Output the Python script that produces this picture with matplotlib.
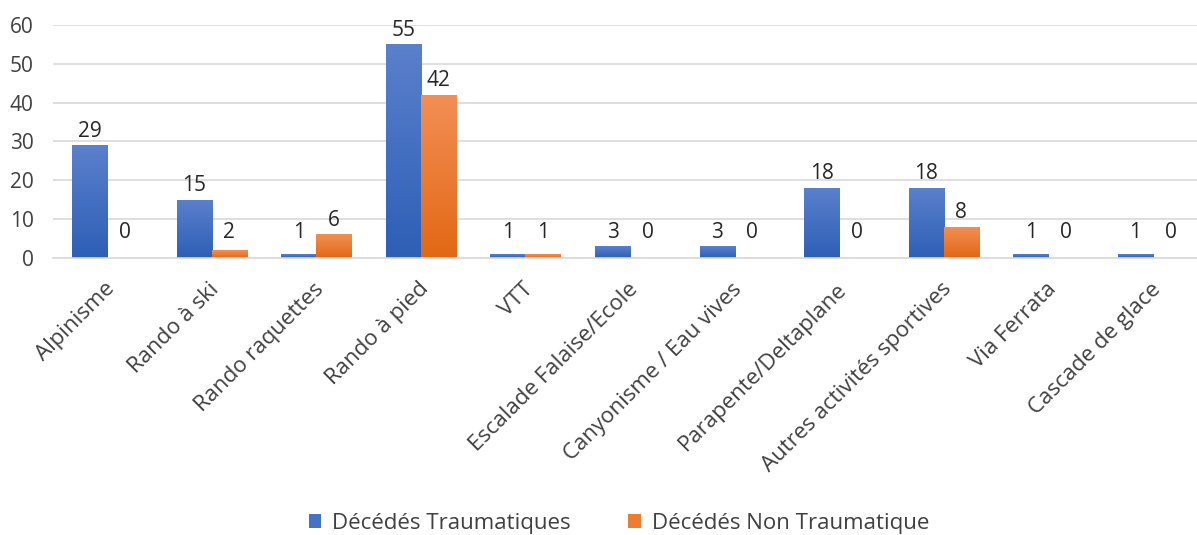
import numpy as np
import matplotlib
matplotlib.use('Agg')
import matplotlib.pyplot as plt
import matplotlib.transforms as mtransforms
from matplotlib.colors import LinearSegmentedColormap
from matplotlib.patches import Patch

plt.rcParams['font.family'] = ['Open Sans', 'DejaVu Sans']

categories = ['Alpinisme', 'Rando à ski', 'Rando raquettes', 'Rando à pied', 'VTT',
              'Escalade Falaise/Ecole', 'Canyonisme / Eau vives', 'Parapente/Deltaplane',
              'Autres activités sportives', 'Via Ferrata', 'Cascade de glace']
traumatiques = [29, 15, 1, 55, 1, 3, 3, 18, 18, 1, 1]
non_traumatiques = [0, 2, 6, 42, 1, 0, 0, 0, 8, 0, 0]
series_names = ['Décédés Traumatiques', 'Décédés Non Traumatique']

fig = plt.figure(figsize=(11.97, 5.35), dpi=100)
ax = fig.add_axes([0.0443, 0.5183, 0.9557, 0.435])

x = np.arange(len(categories))
w = 0.335
blue_cm = LinearSegmentedColormap.from_list('b', ['#2d5fb6', '#5b80cc'])
orange_cm = LinearSegmentedColormap.from_list('o', ['#e26814', '#f28f55'])

b1 = ax.bar(x - w/2, traumatiques, w, color='#4472C4', label=series_names[0], zorder=2)
b2 = ax.bar(x + w/2, non_traumatiques, w, color='#ED7D31', label=series_names[1], zorder=2)

# degrade vertical sur chaque barre
grad = np.linspace(0, 1, 256).reshape(-1, 1)
for bars, cm in [(b1, blue_cm), (b2, orange_cm)]:
    for r in bars:
        h = r.get_height()
        if h <= 0:
            continue
        r.set_facecolor('none')
        x0 = r.get_x()
        im = ax.imshow(grad, cmap=cm, origin='lower', aspect='auto',
                       extent=[x0, x0 + r.get_width(), 0, h], zorder=2)
        im.set_clip_path(r)

# etiquettes de valeur
for bars, vals in [(b1, traumatiques), (b2, non_traumatiques)]:
    for r, v in zip(bars, vals):
        ax.text(r.get_x() + r.get_width()/2, max(v + 2.2, 5.1), str(v), ha='center',
                va='baseline', fontsize=15, color='#262626', zorder=3)

ax.set_xlim(-0.516, 10.42)
ax.set_ylim(0, 60)
ax.set_yticks(range(0, 61, 10))
ax.yaxis.grid(True, color='#d9d9d9', linewidth=1.2, zorder=0)
ax.set_axisbelow(True)
for s in ['top', 'right', 'left']:
    ax.spines[s].set_visible(False)
ax.spines['bottom'].set_color('#d9d9d9')
ax.spines['bottom'].set_linewidth(1.2)
ax.tick_params(axis='both', length=0, colors='#404040')
ax.tick_params(axis='y', labelsize=15, pad=14)
ax.tick_params(axis='x', labelsize=16, pad=15)
ax.set_xticks(x)
ax.set_xticklabels(categories, rotation=45, ha='right', rotation_mode='anchor')
offset = mtransforms.ScaledTranslation(-3/100, 0, fig.dpi_scale_trans)
for lab in ax.get_xticklabels():
    lab.set_transform(lab.get_transform() + offset)

handles = [Patch(facecolor='#4472C4'), Patch(facecolor='#ED7D31')]
fig.legend(handles, series_names, loc='center', bbox_to_anchor=(0.517, 0.022), ncol=2,
           frameon=False, fontsize=16, handlelength=0.55, handleheight=0.55,
           columnspacing=2.6, handletextpad=0.5, labelcolor='#404040')

fig.savefig('out.png', dpi=100)
